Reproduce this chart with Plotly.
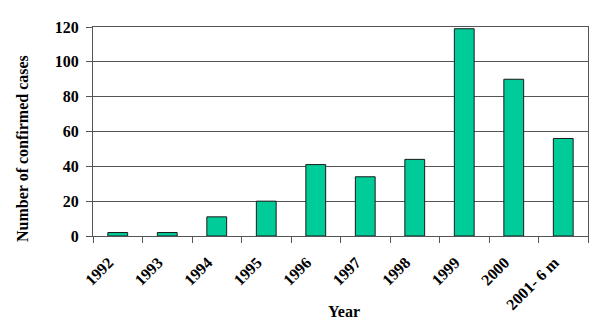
import plotly.graph_objects as go

years = ["1992", "1993", "1994", "1995", "1996", "1997", "1998", "1999", "2000", "2001- 6 m"]
cases = [2, 2, 11, 20, 41, 34, 44, 119, 90, 56]
y_ticks = [0, 20, 40, 60, 80, 100, 120]

FONT = "Liberation Serif, Times New Roman, serif"
AXIS_COLOR = "#555555"

fig = go.Figure(
    go.Bar(
        x=years,
        y=cases,
        marker=dict(color="#00CC99", line=dict(color="#1a1a1a", width=1)),
        width=0.4,
    )
)

fig.update_layout(
    width=600,
    height=327,
    margin=dict(l=93, r=12, t=27, b=91),
    paper_bgcolor="white",
    plot_bgcolor="white",
    showlegend=False,
    font=dict(family=FONT, color="black"),
    xaxis=dict(
        type="category",
        automargin=False,
        tickangle=-45,
        tickvals=years,
        ticktext=[f"<b>{y}</b>" for y in years],
        tickfont=dict(family=FONT, size=16, color="black"),
        ticks="outside",
        ticklen=6,
        tickcolor=AXIS_COLOR,
        tickson="boundaries",
        ticklabelshift=-9,
        ticklabelstandoff=10,
        showline=True,
        linecolor=AXIS_COLOR,
        linewidth=1,
        mirror=True,
        showgrid=False,
    ),
    yaxis=dict(
        automargin=False,
        range=[0, 120],
        tickvals=y_ticks,
        ticktext=[f"<b>{v}</b>" for v in y_ticks],
        tickfont=dict(family=FONT, size=16, color="black"),
        ticks="outside",
        ticklen=6,
        tickcolor=AXIS_COLOR,
        ticklabelstandoff=4,
        showline=True,
        linecolor=AXIS_COLOR,
        linewidth=1,
        mirror=True,
        showgrid=True,
        gridcolor=AXIS_COLOR,
        gridwidth=1,
        zeroline=False,
    ),
    annotations=[
        dict(
            text="<b>Number of confirmed cases</b>",
            textangle=-90,
            xref="paper",
            yref="paper",
            x=-0.142,
            y=0.42,
            xanchor="center",
            yanchor="middle",
            showarrow=False,
            font=dict(family=FONT, size=16, color="black"),
        ),
        dict(
            text="<b>Year</b>",
            xref="paper",
            yref="paper",
            x=0.507,
            y=-0.362,
            xanchor="center",
            yanchor="middle",
            showarrow=False,
            font=dict(family=FONT, size=16, color="black"),
        ),
    ],
)

fig.write_html("out.html")
